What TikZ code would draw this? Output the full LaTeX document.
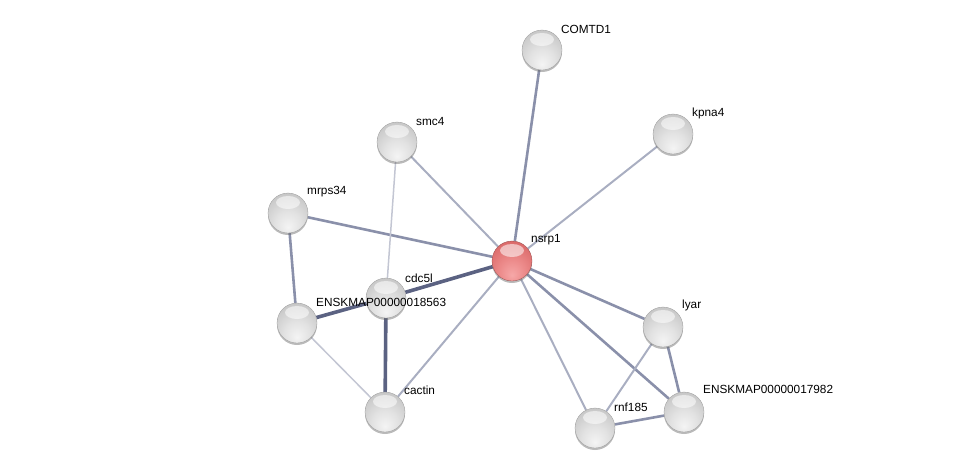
\documentclass[tikz,border=0pt]{standalone}
\usepackage{fontspec}
\setmainfont{Liberation Sans}
\usetikzlibrary{backgrounds}
\definecolor{sA}{HTML}{F4F4F4}
\definecolor{sB}{HTML}{E2E2E2}
\definecolor{sC}{HTML}{C4C4C4}
\definecolor{sD}{HTML}{A6A6A6}
\definecolor{sE}{HTML}{7E7E7E}
\definecolor{rA}{HTML}{F6A8A8}
\definecolor{rB}{HTML}{EC8A8A}
\definecolor{rC}{HTML}{D96666}
\definecolor{rD}{HTML}{C24A4A}
\definecolor{rE}{HTML}{963232}
\pgfdeclareradialshading{sphere}{\pgfpoint{0bp}{-18bp}}{color(0bp)=(sA); color(16bp)=(sB); color(36bp)=(sC); color(52bp)=(sD); color(70bp)=(sE)}
\pgfdeclareradialshading{redsphere}{\pgfpoint{0bp}{-18bp}}{color(0bp)=(rA); color(16bp)=(rB); color(36bp)=(rC); color(52bp)=(rD); color(70bp)=(rE)}
\definecolor{edgeA}{HTML}{5B6282}
\definecolor{edgeB}{HTML}{8A90AA}
\definecolor{edgeC}{HTML}{A9AEC1}
\definecolor{edgeD}{HTML}{C3C6D3}
\tikzset{
  ball/.style={circle, minimum size=40pt, inner sep=0pt, shading=sphere, draw=black!40, line width=0.3pt,
    preaction={fill=black!60, opacity=0.45, transform canvas={yshift=-2pt}},
    path picture={\fill[white,opacity=0.55] ([yshift=10.5pt]path picture bounding box.center) ellipse (12pt and 6.5pt);}},
  redball/.style={ball, shading=redsphere, draw=red!40!black!70},
  lbl/.style={anchor=west, inner sep=1pt, font=\fontsize{11.8}{14}\selectfont, text=black},
  thickE/.style={draw=edgeA, line width=3.6pt},
  medE/.style={draw=edgeB, line width=2.6pt},
  lightE/.style={draw=edgeC, line width=2pt},
  faintE/.style={draw=edgeD, line width=1.5pt},
}
\begin{document}
\begin{tikzpicture}[x=1pt,y=-1pt]
\useasboundingbox (0,0) rectangle (976,474);
\node[ball] (COMTD1) at (542,50) {};
\node[ball] (kpna4) at (673,134) {};
\node[ball] (smc4) at (397,142) {};
\node[ball] (mrps34) at (288,213) {};
\node[redball] (nsrp1) at (512,261) {};
\node[ball] (cdc5l) at (386,298) {};
\node[ball] (e18563) at (297,323) {};
\node[ball] (cactin) at (385,412) {};
\node[ball] (lyar) at (663,327) {};
\node[ball] (e17982) at (684,412) {};
\node[ball] (rnf185) at (595,428) {};
\begin{pgfonlayer}{background}
\draw[medE] (nsrp1) -- (COMTD1);
\draw[lightE] (nsrp1) -- (kpna4);
\draw[lightE] (nsrp1) -- (smc4);
\draw[medE] (nsrp1) -- (mrps34);
\draw[thickE] (nsrp1) -- (cdc5l);
\draw[lightE] (nsrp1) -- (cactin);
\draw[medE] (nsrp1) -- (lyar);
\draw[medE] (nsrp1) -- (e17982);
\draw[lightE] (nsrp1) -- (rnf185);
\draw[faintE] (smc4) -- (cdc5l);
\draw[medE] (mrps34) -- (e18563);
\draw[thickE] (e18563) -- (cdc5l);
\draw[faintE] (e18563) -- (cactin);
\draw[thickE] (cdc5l) -- (cactin);
\draw[lightE] (lyar) -- (rnf185);
\draw[medE] (lyar) -- (e17982);
\draw[medE] (rnf185) -- (e17982);
\end{pgfonlayer}
\node[lbl] (lCOMTD1) at ([shift={(18pt,21pt)}]COMTD1.center) {COMTD1};
\node[lbl] (lkpna4) at ([shift={(18pt,21pt)}]kpna4.center) {kpna4};
\node[lbl] (lsmc4) at ([shift={(18pt,21pt)}]smc4.center) {smc4};
\node[lbl] (lmrps34) at ([shift={(18pt,21pt)}]mrps34.center) {mrps34};
\node[lbl] (lnsrp1) at ([shift={(18pt,21pt)}]nsrp1.center) {nsrp1};
\node[lbl] (lcdc5l) at ([shift={(18pt,20pt)}]cdc5l.center) {cdc5l};
\node[lbl] (le18563) at ([shift={(18pt,21pt)}]e18563.center) {ENSKMAP00000018563};
\node[lbl] (lcactin) at ([shift={(18pt,22pt)}]cactin.center) {cactin};
\node[lbl] (llyar) at ([shift={(18pt,22pt)}]lyar.center) {lyar};
\node[lbl] (le17982) at ([shift={(18pt,23pt)}]e17982.center) {ENSKMAP00000017982};
\node[lbl] (lrnf185) at ([shift={(18pt,21pt)}]rnf185.center) {rnf185};
\end{tikzpicture}
\end{document}
